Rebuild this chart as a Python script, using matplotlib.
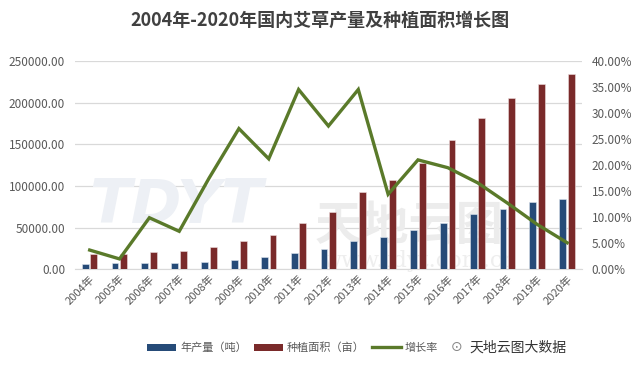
import matplotlib
matplotlib.use("Agg")
import matplotlib.pyplot as plt
import numpy as np
from matplotlib.ticker import FuncFormatter, MultipleLocator
from matplotlib.patches import Patch
from matplotlib.lines import Line2D

plt.rcParams['font.family'] = ['Noto Sans CJK SC', 'DejaVu Sans']

years = ["2004年", "2005年", "2006年", "2007年", "2008年", "2009年", "2010年", "2011年",
         "2012年", "2013年", "2014年", "2015年", "2016年", "2017年", "2018年", "2019年", "2020年"]
production = [6000, 7200, 7200, 7900, 9100, 11500, 14700, 19200,
              24300, 33900, 38400, 47100, 55900, 66300, 71900, 80700, 84300]
area = [18300, 18300, 20400, 22300, 26400, 33900, 40700, 55100,
        69000, 93000, 106700, 128000, 155000, 181000, 205000, 222000, 233700]
growth = [3.7, 2.0, 9.9, 7.3, 17.5, 27.0, 21.2, 34.5,
          27.5, 34.5, 14.4, 21.0, 19.5, 16.6, 12.7, 8.6, 5.1]

c_blue = "#264B78"
c_red = "#7A2A2A"
c_green = "#5A7A2A"
c_text = "#595959"

fig = plt.figure(figsize=(6.39, 3.71), dpi=100)
ax = fig.add_axes([0.117, 0.274, 0.794, 0.562])
ax2 = ax.twinx()

x = np.arange(len(years))
w = 0.23
ax.bar(x - 0.15, production, width=w, color=c_blue, edgecolor="#dfe6ee", linewidth=0.4, zorder=3)
ax.bar(x + 0.14, area, width=w, color=c_red, edgecolor="#eedede", linewidth=0.4, zorder=3)
ax2.plot(x, growth, color=c_green, linewidth=2.4, solid_joinstyle='miter', zorder=4)

ax.set_xlim(-0.5, len(years) - 0.5)
ax.set_ylim(0, 250000)
ax2.set_ylim(0, 40)
ax.yaxis.set_major_locator(MultipleLocator(50000))
ax2.yaxis.set_major_locator(MultipleLocator(5))
ax.yaxis.set_major_formatter(FuncFormatter(lambda v, p: f"{v:.2f}"))
ax2.yaxis.set_major_formatter(FuncFormatter(lambda v, p: f"{v:.2f}%"))
ax.grid(axis='y', color="#d9d9d9", linewidth=0.9, zorder=0)
ax.set_axisbelow(True)

for a in (ax, ax2):
    for s in a.spines.values():
        s.set_visible(False)
    a.tick_params(length=0, colors=c_text, labelsize=8.5)
ax.spines['bottom'].set_visible(True)
ax.spines['bottom'].set_color("#d9d9d9")
ax.set_xticks(x)
ax.set_xticklabels(years, rotation=45, ha='right', rotation_mode='anchor', fontsize=8, color=c_text)
ax.tick_params(axis='x', pad=3)
ax.tick_params(axis='y', pad=7)
ax2.tick_params(axis='y', pad=7)

# faint watermark behind bars
ax.text(0.20, 0.30, "TDYT", transform=ax.transAxes, fontsize=44, color="#edf0f5", ha='center',
        va='center', zorder=1, fontweight='bold', style='italic', family=['DejaVu Sans'])
ax.text(0.66, 0.21, "天地云图", transform=ax.transAxes, fontsize=34, color="#ececec", ha='center',
        va='center', zorder=1, fontweight='bold')
ax.text(0.68, 0.04, "www.tdyt.com.cn", transform=ax.transAxes, fontsize=16, color="#eeeeee",
        ha='center', va='center', zorder=1, family=['DejaVu Serif'])

fig.text(0.5, 0.945, "2004年-2020年国内艾草产量及种植面积增长图", ha='center', va='center',
         fontsize=13, fontweight='bold', color="#404040")

handles = [Patch(facecolor=c_blue), Patch(facecolor=c_red), Line2D([0], [0], color=c_green, lw=2.4)]
labels = ["年产量（吨）", "种植面积（亩）", "增长率"]
fig.legend(handles, labels, loc='center', bbox_to_anchor=(0.458, 0.062), ncol=3, frameon=False,
           fontsize=8, handlelength=2.6, handleheight=0.7, columnspacing=0.6, handletextpad=0.4,
           labelcolor=c_text)

fig.text(0.81, 0.064, "天地云图大数据", ha='center', va='center', fontsize=10, color="#333333")
fig.text(0.714, 0.064, "⊙", ha='center', va='center', fontsize=10, color="#888888", family=['DejaVu Sans'])

fig.savefig("out.png", dpi=100)
